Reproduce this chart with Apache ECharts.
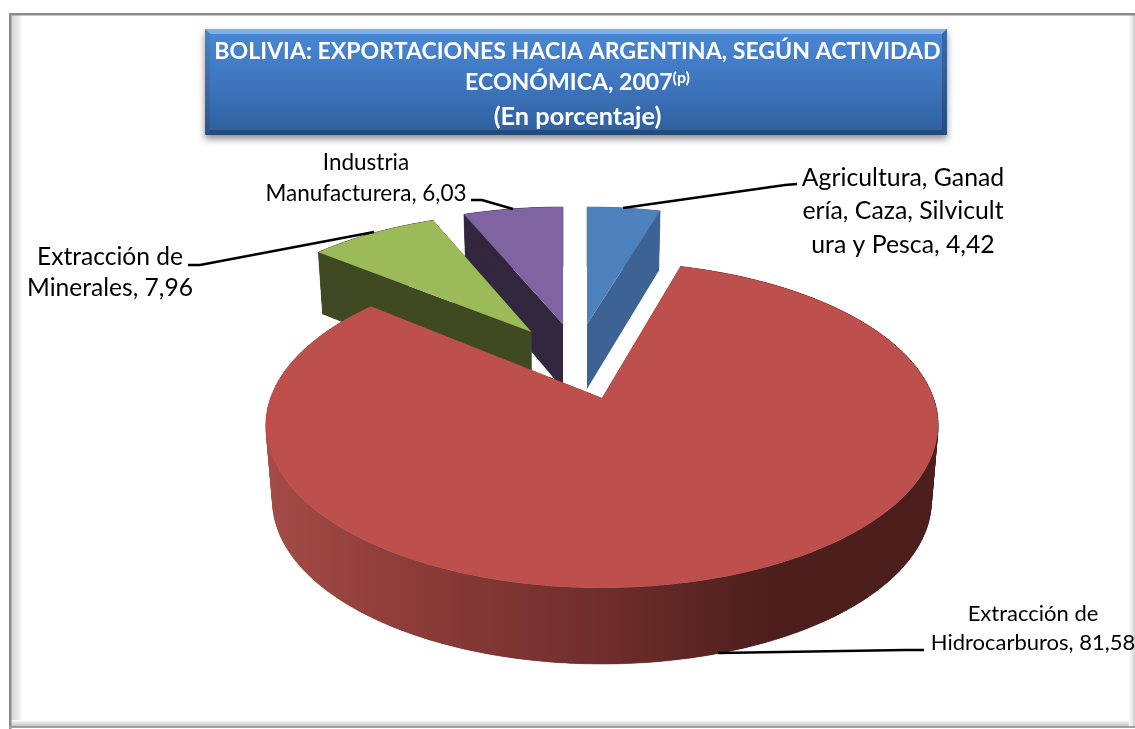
<!DOCTYPE html>
<html>
<head>
<meta charset="utf-8">
<style>html,body{margin:0;padding:0;background:#fff}#c{width:1135px;height:729px}</style>
<script src="https://cdn.jsdelivr.net/npm/echarts@6/dist/echarts.min.js"></script>
</head>
<body>
<div id="c"></div>
<script>
// ---- data ----
const categories = ['Agricultura, Ganadería, Caza, Silvicultura y Pesca', 'Extracción de Hidrocarburos', 'Extracción de Minerales', 'Industria Manufacturera'];
const values = [4.42, 81.58, 7.96, 6.03];
const valueLabels = ['4,42', '81,58', '7,96', '6,03'];
const labelLines = [
  ['Agricultura, Ganad', 'ería, Caza, Silvicult', 'ura y Pesca, '],
  ['Extracción de', 'Hidrocarburos, '],
  ['Extracción de', 'Minerales, '],
  ['Industria', 'Manufacturera, ']
];
const titleLines = ['BOLIVIA: EXPORTACIONES HACIA ARGENTINA, SEGÚN ACTIVIDAD', 'ECONÓMICA, 2007', '(p)', '(En porcentaje)'];

// ---- styles ----
const topColors = ['#4f81bd', '#bd504d', '#9bbb59', '#8064a2'];
const wallColors = ['#3d6394', new echarts.graphic.LinearGradient(266, 0, 938, 0, [
  {offset: 0, color: '#a44c47'}, {offset: 0.18, color: '#903e3a'}, {offset: 0.5, color: '#6f2e2c'},
  {offset: 0.7, color: '#532220'}, {offset: 0.76, color: '#4c1e1c'}, {offset: 1, color: '#4c1e1c'}], true), '#3f4a23', '#32273f'];
const sliceZ = [1, 4, 3, 2];

// ---- layout of the tilted, exploded pie (perspective view) ----
const pieY = 398, radX = 331.4, radY = 158.5, persp = 0.1656, baseScale = 0.98;
const sliceCx = [587, 602, 531.5, 563];      // screen x of each slice's apex
const sliceOffY = [0.505, 0, 0.447, 0.505]; // explosion away from the viewer, in radii
const sliceScaleX = [1, 1, 0.985, 1];
const labelFont = [24.8, 22, 24.6, 22.5];
const labelPos = [[903, 178], [1033, 614], [110, 257], [366, 163]];
const labelPitch = [33.5, 29, 31, 31];
const leaders = [
  [[623, 208], [785, 185], [797, 184]],
  [[718, 653], [905, 650], [924, 650]],
  [[374, 232], [200, 265], [188, 265]],
  [[513, 209], [482, 200], [471, 200]]
];

function depthAt(y) {
  if (y <= 0) return 76;
  if (y <= 0.5) return 76 - 22 * y;
  return 65 - 5.2 * (y - 0.5);
}
function project(i, x, y, bottom) {
  const wy = y + sliceOffY[i];
  const w = 1 + persp * wy;
  let px = radX * sliceScaleX[i] * x / w;
  let py = pieY - radY * wy / w;
  if (bottom) { px *= baseScale; py += depthAt(wy); }
  return [sliceCx[i] + px, py];
}
function arc(i, a0, a1, bottom) {
  const n = Math.max(2, Math.ceil((a1 - a0) * 180 / Math.PI));
  const pts = [];
  for (let k = 0; k <= n; k++) {
    const a = a0 + (a1 - a0) * k / n;
    pts.push(project(i, Math.sin(a), Math.cos(a), bottom));
  }
  return pts;
}
const total = values.reduce((s, v) => s + v, 0);

function renderSlice(params, api) {
  const i = params.dataIndex;
  let before = 0;
  for (let k = 0; k < i; k++) before += values[k];
  const a0 = before / total * 2 * Math.PI;
  const a1 = (before + api.value(0)) / total * 2 * Math.PI;
  const topArc = arc(i, a0, a1, false);
  const botArc = arc(i, a0, a1, true);
  const apexT = project(i, 0, 0, false);
  const apexB = project(i, 0, 0, true);
  const wall = {fill: wallColors[i]};
  const children = [
    {type: 'polygon', z2: sliceZ[i], shape: {points: [apexT, topArc[0], botArc[0], apexB]}, style: wall},
    {type: 'polygon', z2: sliceZ[i], shape: {points: [apexT, topArc[topArc.length - 1], botArc[botArc.length - 1], apexB]}, style: wall},
    {type: 'polygon', z2: sliceZ[i], shape: {points: topArc.concat(botArc.slice().reverse())}, style: wall}
  ];
  // side wall swept between the upper and lower rim, so its silhouette is filled too
  for (let k = 0; k + 1 < topArc.length; k++) {
    children.push({type: 'polygon', z2: sliceZ[i], shape: {points: [topArc[k], topArc[k + 1], botArc[k + 1], botArc[k]]},
      style: {fill: wallColors[i], stroke: wallColors[i], lineWidth: 0.6}});
  }
  children.push(
    {type: 'polygon', z2: sliceZ[i] + 0.5, shape: {points: [apexT].concat(topArc)}, style: {fill: topColors[i]}},
    {type: 'polyline', z2: 10, shape: {points: leaders[i]}, style: {stroke: '#000', lineWidth: 2.6, fill: null}}
  );
  labelLines[i].forEach((t, k) => {
    const last = k === labelLines[i].length - 1;
    children.push({type: 'text', z2: 11, style: {
      text: last ? t + valueLabels[i] : t,
      x: labelPos[i][0], y: labelPos[i][1] + k * labelPitch[i],
      align: 'center', verticalAlign: 'middle', fill: '#000',
      font: labelFont[i] + 'px Lato'
    }});
  });
  return {type: 'group', children};
}

const chart = echarts.init(document.getElementById('c'), null, {renderer: 'canvas'});
const boxL = 205, boxR = 947, boxT = 29, boxB = 135, bev = 5;
const titleFont = {fontFamily: 'Lato', fontWeight: 'bold', fontSize: 23.1, color: '#fff'};
chart.setOption({
  animation: false,
  backgroundColor: '#fff',
  title: {
    left: 572.5, top: 31, textAlign: 'center',
    text: '{a|' + titleLines[0] + '}\n{b|' + titleLines[1] + '}{s|' + titleLines[2] + '}\n{c|' + titleLines[3] + '}',
    textStyle: {
      fontFamily: 'Lato', fontWeight: 'bold', fontSize: 23.1, color: '#fff',
      rich: {
        a: Object.assign({lineHeight: 32}, titleFont),
        b: Object.assign({lineHeight: 30}, titleFont),
        s: {fontFamily: 'Lato', fontWeight: 'bold', fontSize: 16, color: '#fff', lineHeight: 30, padding: [0, 0, 11, 0]},
        c: {fontFamily: 'Lato', fontWeight: 'bold', fontSize: 25.3, color: '#fff', lineHeight: 37}
      }
    }
  },
  graphic: {elements: [
    {type: 'rect', shape: {x: 11, y: 15, width: 10, height: 711}, style: {fill: new echarts.graphic.LinearGradient(0, 0, 1, 0, [{offset: 0, color: '#d6d6d6'}, {offset: 1, color: '#f4f4f4'}])}},
    {type: 'rect', shape: {x: 11, y: 720, width: 1122, height: 6}, style: {fill: new echarts.graphic.LinearGradient(0, 0, 0, 1, [{offset: 0, color: '#ffffff'}, {offset: 1, color: '#c4c4c4'}])}},
    {type: 'rect', shape: {x: 1129, y: 15, width: 6, height: 711}, style: {fill: new echarts.graphic.LinearGradient(0, 0, 1, 0, [{offset: 0, color: '#ffffff'}, {offset: 1, color: '#d0d0d0'}])}},
    {type: 'rect', shape: {x: 9, y: 13, width: 1126, height: 2.5}, style: {fill: '#8c8c8c'}},
    {type: 'rect', shape: {x: 9, y: 13, width: 2.5, height: 716}, style: {fill: '#8c8c8c'}},
    {type: 'rect', shape: {x: 9, y: 726, width: 1126, height: 2}, style: {fill: '#a0a0a0'}},
    {type: 'rect', shape: {x: boxL, y: boxT, width: boxR - boxL, height: boxB - boxT}, style: {
      fill: new echarts.graphic.LinearGradient(0, 0, 0, 1, [{offset: 0, color: '#4a89d6'}, {offset: 0.55, color: '#3d74bc'}, {offset: 1, color: '#2e5f9c'}]),
      shadowBlur: 7, shadowOffsetY: 4, shadowColor: 'rgba(0,0,0,0.45)'}},
    {type: 'polygon', shape: {points: [[boxL, boxT], [boxR, boxT], [boxR - bev, boxT + bev], [boxL + bev, boxT + bev]]}, style: {fill: '#7fb0ec'}},
    {type: 'polygon', shape: {points: [[boxL, boxB], [boxR, boxB], [boxR - bev, boxB - bev], [boxL + bev, boxB - bev]]}, style: {fill: '#234c7e'}},
    {type: 'polygon', shape: {points: [[boxL, boxT], [boxL + bev, boxT + bev], [boxL + bev, boxB - bev], [boxL, boxB]]}, style: {fill: new echarts.graphic.LinearGradient(0, 0, 0, 1, [{offset: 0, color: '#4a82c8'}, {offset: 1, color: '#2a5689'}])}},
    {type: 'polygon', shape: {points: [[boxR, boxT], [boxR - bev, boxT + bev], [boxR - bev, boxB - bev], [boxR, boxB]]}, style: {fill: new echarts.graphic.LinearGradient(0, 0, 0, 1, [{offset: 0, color: '#3a6cab'}, {offset: 1, color: '#234c7e'}])}}
  ]},
  series: [{
    type: 'custom',
    coordinateSystem: 'none',
    name: 'Exportaciones',
    renderItem: renderSlice,
    data: values.map((v, i) => ({name: categories[i], value: [v]})),
    silent: true,
    clip: false
  }]
});
</script>
</body>
</html>
